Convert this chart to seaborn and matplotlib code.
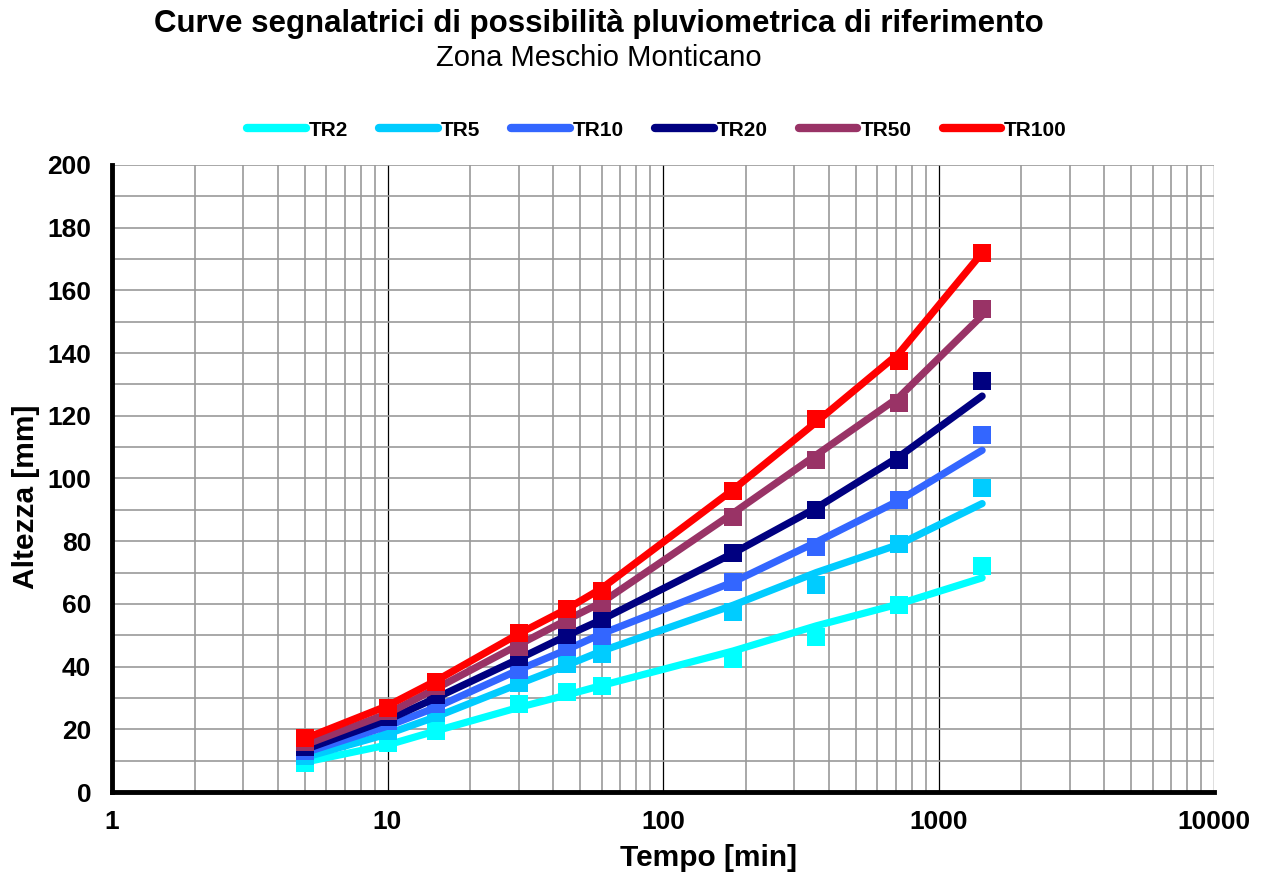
import numpy as np
import pandas as pd
import matplotlib
matplotlib.use("Agg")
import matplotlib.pyplot as plt
import seaborn as sns
from matplotlib.lines import Line2D
from matplotlib.ticker import FixedLocator, NullFormatter, LogLocator

# ---- data ----
durations = [5, 10, 15, 30, 45, 60, 180, 360, 720, 1440]
series_names = ["TR2", "TR5", "TR10", "TR20", "TR50", "TR100"]

# observed points (markers)
obs_TR2 = [9.2, 15.6, 19.6, 28.0, 31.9, 33.8, 42.5, 49.5, 59.5, 72.0]
obs_TR5 = [11.6, 19.3, 25.2, 34.8, 40.8, 44.0, 57.5, 66.0, 79.0, 97.0]
obs_TR10 = [13.2, 22.5, 28.0, 39.0, 46.3, 49.8, 67.0, 78.0, 93.0, 114.0]
obs_TR20 = [14.3, 23.8, 30.8, 43.0, 50.0, 55.2, 76.2, 90.0, 106.0, 131.0]
obs_TR50 = [15.9, 25.7, 33.7, 46.3, 54.9, 60.3, 87.7, 106.0, 124.0, 154.0]
obs_TR100 = [17.2, 26.8, 35.1, 50.7, 58.4, 64.1, 96.0, 119.0, 137.5, 172.0]

# fitted curves (lines)
fit_TR2 = [9.5, 15.0, 19.5, 27.0, 31.0, 34.0, 45.0, 53.0, 60.0, 68.3]
fit_TR5 = [11.0, 18.5, 24.0, 34.5, 40.5, 45.0, 59.6, 70.0, 79.0, 92.0]
fit_TR10 = [12.5, 21.0, 27.0, 39.0, 45.5, 50.5, 67.0, 79.7, 93.0, 109.0]
fit_TR20 = [13.5, 23.0, 30.0, 42.5, 50.0, 55.0, 76.2, 90.6, 107.0, 126.3]
fit_TR50 = [15.0, 25.0, 33.0, 47.0, 55.0, 60.5, 89.0, 107.5, 126.0, 152.0]
fit_TR100 = [17.0, 27.5, 35.5, 50.5, 58.5, 65.0, 96.5, 118.0, 140.0, 172.0]

y_ticks = [0, 20, 40, 60, 80, 100, 120, 140, 160, 180, 200]
x_ticks = [1, 10, 100, 1000, 10000]
x_tick_labels = ["1", "10", "100", "1000", "10000"]

colors = ["#00FFFF", "#00CCFF", "#3366FF", "#000080", "#993366", "#FF0000"]

obs = [obs_TR2, obs_TR5, obs_TR10, obs_TR20, obs_TR50, obs_TR100]
fit = [fit_TR2, fit_TR5, fit_TR10, fit_TR20, fit_TR50, fit_TR100]

rows_obs, rows_fit = [], []
for name, o, f in zip(series_names, obs, fit):
    for d, vo, vf in zip(durations, o, f):
        rows_obs.append({"serie": name, "t": d, "h": vo})
        rows_fit.append({"serie": name, "t": d, "h": vf})
df_obs = pd.DataFrame(rows_obs)
df_fit = pd.DataFrame(rows_fit)

# ---- style ----
sns.set_style("white")
plt.rcParams["font.family"] = ["Liberation Sans", "DejaVu Sans"]
plt.rcParams["text.color"] = "black"
plt.rcParams["axes.labelcolor"] = "black"
plt.rcParams["xtick.color"] = "black"
plt.rcParams["ytick.color"] = "black"

fig = plt.figure(figsize=(12.61, 8.80), dpi=100)
ax = fig.add_axes([112 / 1261, 1 - 792 / 880, (1214 - 112) / 1261, (792 - 165) / 880])

ax.set_xscale("log")
ax.set_xlim(1, 10000)
ax.set_ylim(0, 200)

# grid
ax.yaxis.set_minor_locator(FixedLocator(np.arange(10, 200, 20)))
ax.xaxis.set_minor_locator(LogLocator(base=10, subs=np.arange(2, 10)))
ax.xaxis.set_minor_formatter(NullFormatter())
ax.grid(True, which="minor", axis="both", color="#9a9a9a", linewidth=1.2, zorder=0)
ax.grid(True, which="major", axis="y", color="#9a9a9a", linewidth=1.2, zorder=0)
ax.grid(True, which="major", axis="x", color="#000000", linewidth=0.9, zorder=0)
ax.set_axisbelow(True)

palette = dict(zip(series_names, colors))
for i, name in enumerate(series_names):
    sub_f = df_fit[df_fit["serie"] == name]
    sub_o = df_obs[df_obs["serie"] == name]
    sns.lineplot(data=sub_f, x="t", y="h", color=palette[name], linewidth=5.2,
                 ax=ax, legend=False, zorder=3 + 2 * i, solid_capstyle="round",
                 solid_joinstyle="round")
    sns.scatterplot(data=sub_o, x="t", y="h", color=palette[name], marker="s",
                    s=150, linewidth=0, ax=ax, legend=False, zorder=4 + 2 * i)

ax.set_xticks(x_ticks)
ax.set_xticklabels(x_tick_labels)
ax.set_yticks(y_ticks)
ax.tick_params(axis="both", which="major", labelsize=19, length=6, width=2.5,
               direction="out", color="black")
ax.tick_params(axis="y", which="major", pad=9)
ax.tick_params(axis="x", which="major", pad=7)
ax.tick_params(axis="both", which="minor", length=0)
for lab in ax.get_xticklabels() + ax.get_yticklabels():
    lab.set_fontweight("bold")

for side in ["top", "right"]:
    ax.spines[side].set_visible(False)
for side in ["left", "bottom"]:
    ax.spines[side].set_linewidth(3.5)
    ax.spines[side].set_color("black")

ax.set_xlabel("")
ax.set_ylabel("")
fig.text(708 / 1261, 1 - 858 / 880, "Tempo [min]", ha="center", va="center",
         fontsize=21.5, fontweight="bold")
fig.text(26 / 1261, 1 - 497 / 880, "Altezza [mm]", ha="center", va="center",
         rotation=90, fontsize=21.5, fontweight="bold")

fig.text(0.475, 0.973, "Curve segnalatrici di possibilità pluviometrica di riferimento",
         ha="center", va="center", fontsize=22.5, fontweight="bold")
fig.text(0.475, 0.934, "Zona Meschio Monticano", ha="center", va="center", fontsize=21)

handles = [Line2D([0], [0], color=c, linewidth=6, solid_capstyle="round") for c in colors]
leg = fig.legend(handles, series_names, loc="center", bbox_to_anchor=(657 / 1261, 0.852),
                 ncol=6, frameon=False, handlelength=2.8, handletextpad=0.15,
                 columnspacing=1.5, prop={"size": 15, "weight": "bold"})

fig.savefig("out.png", dpi=100)
